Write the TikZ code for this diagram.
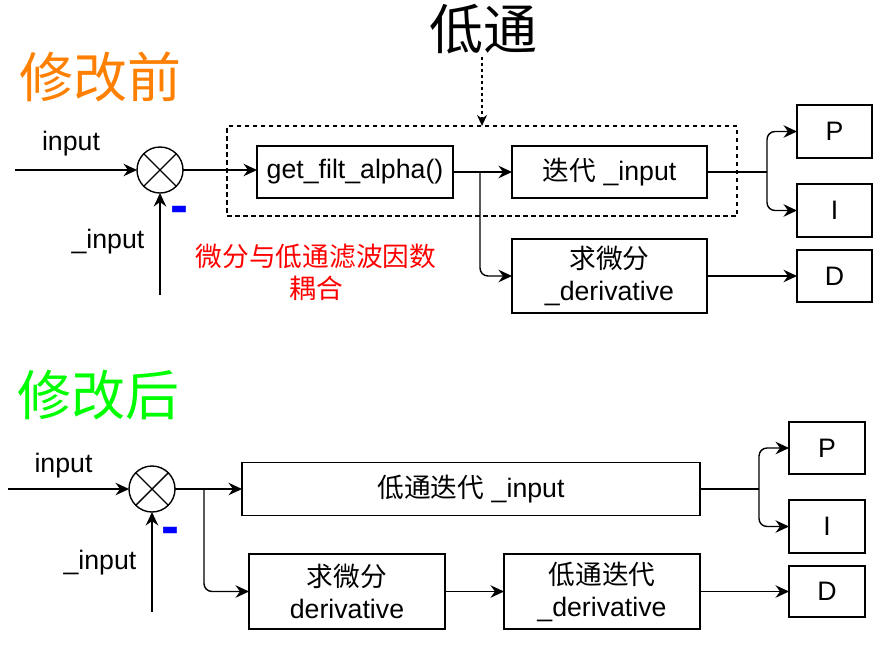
\documentclass[tikz,border=0pt]{standalone}
\usepackage{fontspec}
\setmainfont{Liberation Sans}
\newfontfamily\cjk{Noto Sans CJK SC}
\usetikzlibrary{arrows.meta}
\begin{document}
\begin{tikzpicture}[x=1pt,y=-1pt,
  line width=1.4pt,
  txt/.style={font=\fontsize{26.7}{32}\selectfont, inner sep=0pt, outer sep=0pt},
  bx/.style={draw=black, line width=1.4pt, inner sep=0pt, outer sep=0pt, align=center,
             font=\fontsize{26.7}{32}\selectfont},
  title/.style={font=\cjk\fontsize{54}{60}\selectfont, inner sep=0pt},
  arr/.style={-{Stealth[length=13.5pt,width=12.5pt,inset=4.5pt]}},
  sum/.style={draw=black, circle, minimum size=46pt, inner sep=0pt, outer sep=0pt, line width=1.4pt},
  minus/.style={text=blue, font=\bfseries\fontsize{54}{60}\selectfont, inner sep=0pt, anchor=base}
]
\useasboundingbox (0,0) rectangle (882,646);

% ---------- titles ----------
\node[title, text={rgb,255:red,255;green,128;blue,0}] (t1) at (100,77) {修改前};
\node[title, text={rgb,255:red,0;green,255;blue,0}] (t2) at (98,395) {修改后};
\node[title, text=black] (lp) at (483,29) {低通};

% ---------- top diagram ----------
\node[draw=black, dash pattern=on 4.5pt off 3.5pt, line width=1.3pt, minimum width=510pt, minimum height=90pt,
      inner sep=0pt, outer sep=0pt] (grp) at (482,171) {};
\node[sum] (c1) at (160,170) {};
\draw (c1.north west) -- (c1.south east);
\draw (c1.north east) -- (c1.south west);

\node[bx, minimum width=196pt, minimum height=52pt] (gf) at (355,172) {get\_filt\_alpha()};
\node[bx, minimum width=195pt, minimum height=52pt] (it) at (609.5,172) {{\cjk 迭代} \_input};
\node[bx, minimum width=195pt, minimum height=74pt] (dv) at (609.5,276) {{\cjk 求微分}\\\_derivative};
\node[bx, minimum width=75pt, minimum height=53pt] (P1) at (834.5,131.5) {P};
\node[bx, minimum width=75pt, minimum height=53pt] (I1) at (834.5,210.5) {I};
\node[bx, minimum width=75pt, minimum height=52pt] (D1) at (834.5,276) {D};

\node[txt, anchor=base] (lin1) at (71,150) {input};
\node[txt, anchor=base] (lun1) at (108,248) {\_input};
\node[minus] (m1) at (179,223) {-};
\node[txt, text=red, align=center, font=\cjk\fontsize{26.7}{32}\selectfont] (note) at (316,272) {微分与低通滤波因数\\耦合};

\coordinate (in1) at (15,170);
\coordinate (up1) at (160,295);
\coordinate (b1) at (480,172);
\coordinate (j1) at (767,172);
\coordinate (lpb) at (482,57);

\draw[arr] (in1) -- (c1.west);
\draw[arr] (up1) -- (c1.south);
\draw[arr] (c1.east) -- (c1.east -| gf.west);
\draw[arr] (gf.east) -- (it.west);
\draw[arr, rounded corners=8pt] (b1) |- (dv.west);
\draw (it.east) -- (it.east -| j1);
\draw[arr, rounded corners=8pt] (j1) |- (P1.west);
\draw[arr, rounded corners=8pt] (j1) |- (I1.west);
\draw[arr] (dv.east) -- (D1.west);
\draw[line width=1.3pt, dash pattern=on 3pt off 3pt, -{Stealth[length=11pt,width=10pt,inset=3.5pt]}] (lpb) -- (grp.north);

% ---------- bottom diagram ----------
\node[sum] (c2) at (152,489) {};
\draw (c2.north west) -- (c2.south east);
\draw (c2.north east) -- (c2.south west);

\node[bx, minimum width=458pt, minimum height=53pt] (lt) at (471,489) {{\cjk 低通迭代} \_input};
\node[bx, minimum width=196pt, minimum height=75pt] (dv2) at (347,591.5) {{\cjk 求微分}\\derivative};
\node[bx, minimum width=196pt, minimum height=75pt] (ld) at (602,591.5) {{\cjk 低通迭代}\\\_derivative};
\node[bx, minimum width=76pt, minimum height=52pt] (P2) at (827,448) {P};
\node[bx, minimum width=76pt, minimum height=53pt] (I2) at (827,526.5) {I};
\node[bx, minimum width=76pt, minimum height=51pt] (D2) at (827,591.5) {D};

\node[txt, anchor=base] (lin2) at (63.5,472) {input};
\node[txt, anchor=base] (lun2) at (100,569) {\_input};
\node[minus] (m2) at (170.5,544) {-};

\coordinate (in2) at (8,489);
\coordinate (up2) at (152,612);
\coordinate (b2) at (204,489);
\coordinate (j2) at (759,489);

\draw[arr] (in2) -- (c2.west);
\draw[arr] (up2) -- (c2.south);
\draw[arr] (c2.east) -- (c2.east -| lt.west);
\draw[arr, rounded corners=8pt] (b2) |- (dv2.west);
\draw[arr] (dv2.east) -- (dv2.east -| ld.west);
\draw[arr] (ld.east) -- (ld.east -| D2.west);
\draw (lt.east) -- (lt.east -| j2);
\draw[arr, rounded corners=8pt] (j2) |- (P2.west);
\draw[arr, rounded corners=8pt] (j2) |- (I2.west);
\end{tikzpicture}
\end{document}
